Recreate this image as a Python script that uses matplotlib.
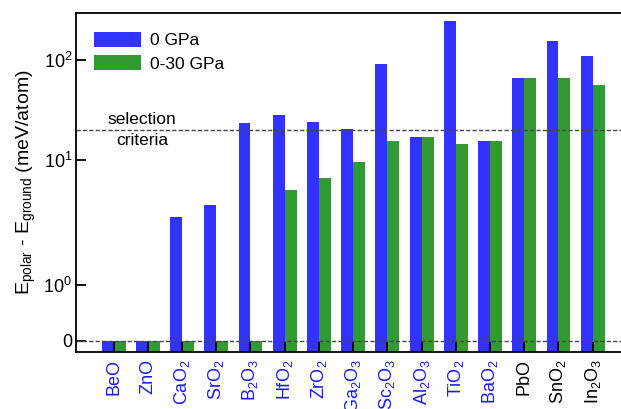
import matplotlib
matplotlib.use("Agg")
import matplotlib.pyplot as plt
import numpy as np

# Energy difference between polar and ground-state phases (meV/atom)
compounds = ["BeO", "ZnO", "CaO$_2$", "SrO$_2$", "B$_2$O$_3$", "HfO$_2$", "ZrO$_2$",
             "Ga$_2$O$_3$", "Sc$_2$O$_3$", "Al$_2$O$_3$", "TiO$_2$", "BaO$_2$",
             "PbO", "SnO$_2$", "In$_2$O$_3$"]
e_0gpa = [0.0, 0.0, 2.7, 3.55, 23.4, 28.1, 24.0, 20.4, 91.6, 17.0, 245.0, 15.5,
          66.0, 156.0, 110.0]
e_0_30gpa = [0.0, 0.0, 0.0, 0.0, 0.0, 5.0, 6.6, 9.55, 15.5, 17.0, 14.5, 15.5,
             66.0, 66.0, 55.8]
selection_criteria = 20.0
ytick_values = [0, 1, 10, 100]
ytick_labels = ["0", "$10^0$", "$10^1$", "$10^2$"]

BLUE = "#3333ff"
GREEN = "#339933"
LABEL_BLUE = "#1a1aff"

plt.rcParams["font.family"] = ["Liberation Sans", "DejaVu Sans"]
plt.rcParams["mathtext.fontset"] = "custom"
plt.rcParams["mathtext.rm"] = "Liberation Sans"
plt.rcParams["mathtext.it"] = "Liberation Sans:italic"
plt.rcParams["mathtext.bf"] = "Liberation Sans:bold"
plt.rcParams["mathtext.default"] = "regular"

fig = plt.figure(figsize=(6.21, 4.09), dpi=100)
ax = fig.add_axes([76.3 / 621, 57 / 409, (630 - 76.3) / 621, (352 - 12.5) / 409])

ymin, ymax = -0.2, 300
ax.set_yscale("symlog", linthresh=2, linscale=1)
ax.set_ylim(ymin, ymax)

x = np.arange(len(compounds))
w = 0.35
v0 = np.array(e_0gpa)
v30 = np.array(e_0_30gpa)
ax.bar(x - w / 2, v0 - ymin, w, bottom=ymin, color=BLUE, label="0 GPa", zorder=1)
ax.bar(x + w / 2, v30 - ymin, w, bottom=ymin, color=GREEN, label="0-30 GPa", zorder=1)

ax.axhline(0, color="#444444", lw=1.0, ls=(0, (3, 1.6)), zorder=2)
ax.axhline(selection_criteria, color="#444444", lw=1.0, ls=(0, (3, 1.6)), zorder=2)
ax.text(0.83, selection_criteria, "selection\ncriteria", ha="center", va="center",
        fontsize=12.5, linespacing=1.45)

ax.set_xlim(-1.09, len(compounds) - 1 + 1.09)
ax.set_xticks(x)
ax.set_xticklabels(compounds, rotation=90, fontsize=13)
for lbl, val in zip(ax.get_xticklabels(), e_0_30gpa):
    lbl.set_color(LABEL_BLUE if val < selection_criteria else "black")

ax.set_yticks(ytick_values)
ax.set_yticklabels(ytick_labels, fontsize=13)
ax.yaxis.set_minor_locator(matplotlib.ticker.NullLocator())
ax.tick_params(axis="both", direction="in", length=7, width=1.3, pad=3)
ax.tick_params(axis="x", pad=5)

for s in ax.spines.values():
    s.set_linewidth(1.3)

ax.set_ylabel("E$_{polar}$ - E$_{ground}$ (meV/atom)", fontsize=14, labelpad=4)

ax.legend(loc="upper left", bbox_to_anchor=(94 / 621, 1 - 32 / 409),
          bbox_transform=fig.transFigure, frameon=False, fontsize=12.5,
          handlelength=2.7, handleheight=0.95, handletextpad=0.5,
          labelspacing=0.4, borderpad=0, borderaxespad=0)

fig.savefig("out.png", dpi=100)
